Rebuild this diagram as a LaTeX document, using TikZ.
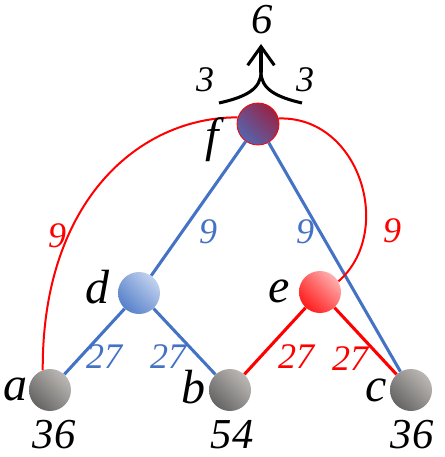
\documentclass[tikz,border=0pt]{standalone}
\usepackage{fontspec}
\setmainfont{Liberation Serif}
\usetikzlibrary{arrows.meta,shadings}
\definecolor{myblue}{RGB}{68,114,196}
\definecolor{myred}{RGB}{255,0,0}
\definecolor{grayL}{RGB}{205,200,196}
\definecolor{grayM}{RGB}{145,143,141}
\definecolor{grayD}{RGB}{82,82,82}
\definecolor{blueL}{RGB}{220,230,248}
\definecolor{blueM}{RGB}{135,165,218}
\definecolor{redL}{RGB}{255,210,210}
\definecolor{redM}{RGB}{255,95,95}
\definecolor{fred}{RGB}{165,20,45}
\definecolor{fmid}{RGB}{118,70,125}
\begin{document}
\begin{tikzpicture}[x=0.75pt,y=-0.75pt,
  ball/.style={circle,minimum size=31.5pt,inner sep=0pt,shade},
  grayball/.style={ball,upper right=grayL,lower left=grayD,upper left=grayM,lower right=grayM},
  blueball/.style={ball,upper right=blueL,lower left=myblue,upper left=blueM,lower right=blueM},
  redball/.style={ball,upper right=redL,lower left=myred,upper left=redM,lower right=redM},
  fball/.style={ball,upper right=fred,lower left=myblue,upper left=fmid,lower right=fmid,draw=myred,line width=0.6pt},
  txt/.style={inner sep=0pt},
  letter/.style={txt,font=\fontsize{36}{36}\selectfont\itshape},
  num/.style={txt,font=\fontsize{32}{32}\selectfont\itshape},
  elbl/.style={txt,font=\fontsize{27}{27}\selectfont\itshape},
  toplbl/.style={txt,font=\fontsize{27}{27}\selectfont\itshape},
  blueline/.style={draw=myblue,line width=2.3pt},
  redline/.style={draw=myred,line width=2.3pt},
  redcurve/.style={draw=myred,line width=1.5pt},
  blackline/.style={draw=black,line width=2.3pt}
]
\useasboundingbox (0,0) rectangle (444,457);
% balls
\node[fball] (f) at (258,124) {};
\node[blueball] (d) at (139,293) {};
\node[redball] (e) at (320,292) {};
\node[grayball] (a) at (50,390) {};
\node[grayball] (b) at (230,390) {};
\node[grayball] (c) at (411,390) {};
% connectors
\draw[blueline] (f) -- (d);
\draw[blueline] (f) -- (c);
\draw[blueline] (d) -- (a);
\draw[blueline] (d) -- (b);
\draw[redline] (e) -- (b);
\draw[redline] (e) -- (c);
\draw[redcurve] (a.110) .. controls (42,200) and (140,117) .. (f.162);
\draw[redcurve] (f.15) .. controls (360,116) and (395,232) .. (e.30);
% top arrow
\coordinate (tl) at (219,103);
\coordinate (tr) at (302,103);
\coordinate (tj) at (261,72);
\coordinate (tt) at (261,44);
\draw[blackline] (tl) .. controls (246,97) and (261,89) .. (tj);
\draw[blackline] (tr) .. controls (276,97) and (261,89) .. (tj);
\draw[blackline,-{Straight Barb[length=14pt,width=20pt,line width=2.3pt]}] (tj) -- (tt);
% labels
\node[letter] (la) at (15,389) {a};
\node[letter] (lb) at (193,387) {b};
\node[letter] (lc) at (376,390) {c};
\node[letter] (ld) at (97,287) {d};
\node[letter] (le) at (279,291) {e};
\node[letter] (lf) at (212,140) {f};
\node[num] (na) at (54,435) {36};
\node[num] (nb) at (232,435) {54};
\node[num] (nc) at (412,435) {36};
\node[num] (n6) at (262,20) {6};
\node[toplbl] (t3l) at (205,80) {3};
\node[toplbl] (t3r) at (305,80) {3};
\node[elbl,text=myblue] (e1) at (104,357) {27};
\node[elbl,text=myblue] (e2) at (168,357) {27};
\node[elbl,text=myred] (e3) at (296,357) {27};
\node[elbl,text=myred] (e4) at (350,359) {27};
\node[elbl,text=myblue] (e5) at (208,232) {9};
\node[elbl,text=myblue] (e6) at (305,232) {9};
\node[elbl,text=myred] (e7) at (57,236) {9};
\node[elbl,text=myred] (e8) at (392,231) {9};
\end{tikzpicture}
\end{document}
